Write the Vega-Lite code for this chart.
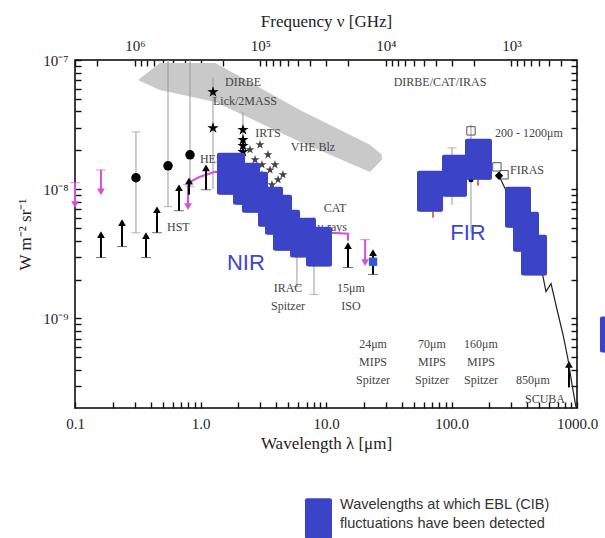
{
  "$schema": "https://vega.github.io/schema/vega-lite/v6.json",
  "width": 502,
  "height": 348,
  "autosize": {"type": "none"},
  "padding": {"left": 75, "top": 60, "right": 28, "bottom": 130},
  "background": "white",
  "config": {
    "view": {"stroke": "black", "strokeWidth": 1.5},
    "axis": {
      "domain": false, "ticks": true, "tickColor": "#111", "tickWidth": 1.4, "tickSize": 6, "offset": -6,
      "labelFont": "Liberation Serif", "labelFontSize": 15, "labelColor": "#222",
      "titleFont": "Liberation Serif", "titleFontSize": 17, "titleFontWeight": "normal", "titleColor": "#222",
      "grid": false, "zindex": 1, "labelOverlap": false, "labelFlush": false
    }
  },
  "datasets": {
    "band": [
      {"lam": 0.318, "I": 7.0e-8, "I2": 7.0e-8},
      {"lam": 0.475, "I": 9.5e-8, "I2": 5.86e-8},
      {"lam": 1.31, "I": 9.5e-8, "I2": 4.74e-8},
      {"lam": 6.2, "I": 4.11e-8, "I2": 2.33e-8},
      {"lam": 22.4, "I": 2.21e-8, "I2": 1.36e-8},
      {"lam": 27.9, "I": 1.85e-8, "I2": 1.69e-8}
    ],
    "errbars": [
      {"lam": 0.306, "I": 2.78e-8, "I2": 4.61e-9},
      {"lam": 0.551, "I": 1e-7, "I2": 7.33e-9},
      {"lam": 0.825, "I": 1e-7, "I2": 1.045e-8},
      {"lam": 1.258, "I": 7.26e-8, "I2": 1.0e-8},
      {"lam": 2.18, "I": 3.97e-8, "I2": 1.294e-8},
      {"lam": 5.87, "I": 3.01e-9, "I2": 1.766e-9},
      {"lam": 8.02, "I": 6.13e-9, "I2": 1.532e-9},
      {"lam": 143, "I": 3.15e-8, "I2": 4.61e-9},
      {"lam": 100.9, "I": 2.09e-8, "I2": 7.59e-9}
    ],
    "graycaps": [
      {"lam": 0.306, "I": 2.78e-8}, {"lam": 0.306, "I": 4.61e-9},
      {"lam": 0.551, "I": 7.33e-9}, {"lam": 0.825, "I": 1.045e-8},
      {"lam": 5.87, "I": 1.766e-9}, {"lam": 8.02, "I": 1.532e-9},
      {"lam": 100.9, "I": 2.09e-8}
    ],
    "labelsC": [
      {"lam": 2.18, "I": 6.76e-8, "text": "DIRBE"},
      {"lam": 2.262, "I": 4.82e-8, "text": "Lick/2MASS"},
      {"lam": 3.45, "I": 2.73e-8, "text": "IRTS"},
      {"lam": 7.88, "I": 2.13e-8, "text": "VHE Blz"},
      {"lam": 4.98, "I": 1.736e-9, "text": "IRAC"},
      {"lam": 4.98, "I": 1.26e-9, "text": "Spitzer"},
      {"lam": 15.8, "I": 1.736e-9, "text": "15μm"},
      {"lam": 15.8, "I": 1.26e-9, "text": "ISO"},
      {"lam": 11.8, "I": 7.2e-9, "text": "CAT"},
      {"lam": 81, "I": 6.76e-8, "text": "DIRBE/CAT/IRAS"},
      {"lam": 23.7, "I": 6.3e-10, "text": "24μm"},
      {"lam": 23.7, "I": 4.57e-10, "text": "MIPS"},
      {"lam": 23.7, "I": 3.32e-10, "text": "Spitzer"},
      {"lam": 69.9, "I": 6.3e-10, "text": "70μm"},
      {"lam": 69.9, "I": 4.57e-10, "text": "MIPS"},
      {"lam": 69.9, "I": 3.32e-10, "text": "Spitzer"},
      {"lam": 171.8, "I": 6.3e-10, "text": "160μm"},
      {"lam": 171.8, "I": 4.57e-10, "text": "MIPS"},
      {"lam": 171.8, "I": 3.32e-10, "text": "Spitzer"},
      {"lam": 446, "I": 3.32e-10, "text": "850μm"},
      {"lam": 556, "I": 2.37e-10, "text": "SCUBA"}
    ],
    "labelsL": [
      {"lam": 0.99, "I": 1.72e-8, "text": "HESS"},
      {"lam": 0.541, "I": 5.13e-9, "text": "HST"},
      {"lam": 222, "I": 2.73e-8, "text": "200 - 1200μm"},
      {"lam": 292.5, "I": 1.41e-8, "text": "FIRAS"}
    ],
    "labelsR": [
      {"lam": 14.7, "I": 5.13e-9, "text": "γ-rays"}
    ],
    "magline": [
      {"o": 1, "lam": 0.795, "I": 1.027e-8},
      {"o": 2, "lam": 0.856, "I": 1.163e-8},
      {"o": 3, "lam": 0.991, "I": 1.249e-8},
      {"o": 4, "lam": 1.305, "I": 1.365e-8},
      {"o": 5, "lam": 2.064, "I": 1.317e-8},
      {"o": 6, "lam": 4.30, "I": 7.59e-9},
      {"o": 7, "lam": 7.46, "I": 4.87e-9},
      {"o": 8, "lam": 10.76, "I": 4.61e-9},
      {"o": 9, "lam": 14.97, "I": 4.53e-9},
      {"o": 10, "lam": 14.97, "I": 4.0e-9}
    ],
    "down": [
      {"lam": 0.1, "I": 1.122e-8, "I2": 7.59e-9},
      {"lam": 0.161, "I": 1.41e-8, "I2": 9.56e-9},
      {"lam": 0.795, "I": 1.083e-8, "I2": 7.33e-9},
      {"lam": 20.5, "I": 4.07e-9, "I2": 2.71e-9}
    ],
    "downtips": [
      {"lam": 0.1, "I": 7.59e-9},
      {"lam": 0.161, "I": 9.56e-9},
      {"lam": 0.795, "I": 7.33e-9},
      {"lam": 20.5, "I": 2.71e-9}
    ],
    "up": [
      {"lam": 0.161, "I": 4.45e-9, "I2": 2.96e-9},
      {"lam": 0.237, "I": 5.51e-9, "I2": 3.6e-9},
      {"lam": 0.368, "I": 4.37e-9, "I2": 2.96e-9},
      {"lam": 0.450, "I": 6.94e-9, "I2": 4.61e-9},
      {"lam": 0.674, "I": 1.027e-8, "I2": 6.82e-9},
      {"lam": 1.106, "I": 1.466e-8, "I2": 9.91e-9},
      {"lam": 0.810, "I": 1.163e-8, "I2": 9.07e-9},
      {"lam": 14.97, "I": 3.66e-9, "I2": 2.48e-9},
      {"lam": 863, "I": 4.41e-10, "I2": 2.93e-10},
      {"lam": 23.7, "I": 3.23e-9, "I2": 2.19e-9}
    ],
    "upbases": [
      {"lam": 0.161, "I": 2.96e-9},
      {"lam": 0.237, "I": 3.6e-9},
      {"lam": 0.368, "I": 2.96e-9},
      {"lam": 0.450, "I": 4.61e-9},
      {"lam": 0.674, "I": 6.82e-9},
      {"lam": 1.106, "I": 9.91e-9},
      {"lam": 14.97, "I": 2.48e-9},
      {"lam": 23.7, "I": 2.19e-9}
    ],
    "circles": [
      {"lam": 0.306, "I": 1.227e-8},
      {"lam": 0.551, "I": 1.519e-8},
      {"lam": 0.825, "I": 1.847e-8}
    ],
    "bigstars": [
      {"lam": 1.258, "I": 5.66e-8},
      {"lam": 1.258, "I": 2.98e-8},
      {"lam": 2.18, "I": 2.88e-8},
      {"lam": 2.18, "I": 2.41e-8},
      {"lam": 2.18, "I": 2.17e-8},
      {"lam": 2.18, "I": 1.95e-8}
    ],
    "smallstars": [
      {"lam": 2.48, "I": 2.02e-8},
      {"lam": 2.72, "I": 1.69e-8},
      {"lam": 2.98, "I": 2.21e-8},
      {"lam": 3.09, "I": 1.55e-8},
      {"lam": 3.45, "I": 1.847e-8},
      {"lam": 3.58, "I": 1.41e-8},
      {"lam": 3.92, "I": 1.55e-8},
      {"lam": 4.15, "I": 1.184e-8},
      {"lam": 4.54, "I": 1.294e-8},
      {"lam": 3.09, "I": 1.294e-8},
      {"lam": 3.71, "I": 1.083e-8}
    ],
    "fircurve": [
      {"o": 1, "lam": 239, "I": 1.271e-8},
      {"o": 2, "lam": 300, "I": 8e-9},
      {"o": 3, "lam": 400, "I": 4.5e-9},
      {"o": 4, "lam": 536, "I": 2.11e-9},
      {"o": 5, "lam": 566, "I": 1.616e-9},
      {"o": 6, "lam": 621, "I": 1.863e-9},
      {"o": 7, "lam": 693, "I": 1.174e-9},
      {"o": 8, "lam": 773, "I": 7.52e-10},
      {"o": 9, "lam": 848, "I": 4.82e-10},
      {"o": 10, "lam": 912, "I": 3.09e-10},
      {"o": 11, "lam": 982, "I": 2.06e-10}
    ],
    "opensq": [
      {"lam": 143, "I": 2.83e-8},
      {"lam": 230, "I": 1.49e-8},
      {"lam": 262, "I": 1.294e-8}
    ],
    "diamond": [{"lam": 239, "I": 1.271e-8}],
    "blackdot": [{"lam": 143, "I": 1.184e-8}],
    "redmarks": [{"lam": 71.2, "I": 6.35e-9}, {"lam": 162.6, "I": 1.122e-8}],
    "bluesq": [{"lam": 23.7, "I": 2.75e-9}],
    "rects": [
      {"lam": 1.353, "lam2": 2.262, "I": 1.913e-8, "I2": 9.07e-9},
      {"lam": 1.815, "lam2": 2.979, "I": 1.602e-8, "I2": 7.59e-9},
      {"lam": 2.141, "lam2": 3.449, "I": 1.365e-8, "I2": 6.58e-9},
      {"lam": 2.872, "lam2": 4.544, "I": 1.045e-8, "I2": 5.13e-9},
      {"lam": 3.265, "lam2": 5.36, "I": 9.07e-9, "I2": 4.45e-9},
      {"lam": 3.781, "lam2": 6.21, "I": 6.94e-9, "I2": 3.35e-9},
      {"lam": 5.17, "lam2": 8.32, "I": 6.02e-9, "I2": 2.96e-9},
      {"lam": 6.93, "lam2": 11.16, "I": 5.13e-9, "I2": 2.52e-9},
      {"lam": 53.1, "lam2": 85.6, "I": 1.39e-8, "I2": 6.71e-9},
      {"lam": 84.0, "lam2": 132.9, "I": 1.847e-8, "I2": 8.75e-9},
      {"lam": 128.1, "lam2": 210.2, "I": 2.455e-8, "I2": 1.184e-8},
      {"lam": 266.9, "lam2": 430, "I": 1.045e-8, "I2": 5.04e-9},
      {"lam": 309, "lam2": 498, "I": 6.71e-9, "I2": 3.29e-9},
      {"lam": 358, "lam2": 577, "I": 4.45e-9, "I2": 2.15e-9},
      {"lam": 1524, "lam2": 1832, "I": 1.036e-9, "I2": 5.46e-10},
      {"lam": 6.80, "lam2": 11.16, "I": 4.07e-11, "I2": 1.965e-11}
    ],
    "bluetext": [
      {"lam": 2.30, "I": 2.71e-9, "text": "NIR"},
      {"lam": 135.4, "I": 4.61e-9, "text": "FIR"}
    ],
    "legendtext": [
      {"lam": 12.93, "I": 3.6e-11, "text": "Wavelengths at which EBL (CIB)"},
      {"lam": 12.93, "I": 2.57e-11, "text": "fluctuations have been detected"}
    ],
    "dummy": [{"nu": 300, "Iy": 1e-7}, {"nu": 3000000, "Iy": 2.03e-10}]
  },
  "layer": [
    {
      "data": {"name": "dummy"},
      "mark": {"type": "point", "opacity": 0},
      "encoding": {
        "x": {
          "field": "nu", "type": "quantitative",
          "scale": {"type": "log", "domain": [300, 3000000], "reverse": true, "nice": false},
          "axis": {
            "orient": "top", "title": "Frequency ν [GHz]", "titlePadding": 8,
            "values": [400,500,600,700,800,900,1000,2000,3000,4000,5000,6000,7000,8000,9000,10000,20000,30000,40000,50000,60000,70000,80000,90000,100000,200000,300000,400000,500000,600000,700000,800000,900000,1000000,2000000,3000000],
            "labelExpr": "datum.value==1000?'10³':datum.value==10000?'10⁴':datum.value==100000?'10⁵':datum.value==1000000?'10⁶':''",
            "labelPadding": 7
          }
        },
        "y": {
          "field": "Iy", "type": "quantitative",
          "scale": {"type": "log", "domain": [2.03e-10, 1e-7], "nice": false},
          "axis": {
            "orient": "right", "title": null, "labels": false,
            "values": [3e-10,4e-10,5e-10,6e-10,7e-10,8e-10,9e-10,1e-9,2e-9,3e-9,4e-9,5e-9,6e-9,7e-9,8e-9,9e-9,1e-8,2e-8,3e-8,4e-8,5e-8,6e-8,7e-8,8e-8,9e-8,1e-7]
          }
        }
      }
    },
    {
      "encoding": {
        "x": {
          "field": "lam", "type": "quantitative",
          "scale": {"type": "log", "domain": [0.1, 1000], "nice": false},
          "axis": {
            "orient": "bottom", "title": "Wavelength λ [μm]", "titlePadding": 4,
            "values": [0.1,0.2,0.3,0.4,0.5,0.6,0.7,0.8,0.9,1,2,3,4,5,6,7,8,9,10,20,30,40,50,60,70,80,90,100,200,300,400,500,600,700,800,900,1000],
            "labelExpr": "datum.value==0.1?'0.1':datum.value==1?'1.0':datum.value==10?'10.0':datum.value==100?'100.0':datum.value==1000?'1000.0':''",
            "labelPadding": 8
          }
        },
        "y": {
          "field": "I", "type": "quantitative",
          "scale": {"type": "log", "domain": [2.03e-10, 1e-7], "nice": false},
          "axis": {
            "orient": "left", "title": "W m⁻² sr⁻¹", "titlePadding": 8,
            "values": [3e-10,4e-10,5e-10,6e-10,7e-10,8e-10,9e-10,1e-9,2e-9,3e-9,4e-9,5e-9,6e-9,7e-9,8e-9,9e-9,1e-8,2e-8,3e-8,4e-8,5e-8,6e-8,7e-8,8e-8,9e-8,1e-7],
            "labelExpr": "datum.value==1e-7?'10⁻⁷':datum.value==1e-8?'10⁻⁸':datum.value==1e-9?'10⁻⁹':''",
            "labelPadding": 7
          }
        }
      },
      "layer": [
        {
          "data": {"name": "band"},
          "mark": {"type": "area", "color": "#c9c9c9", "opacity": 1},
          "encoding": {"y2": {"field": "I2"}}
        },
        {
          "data": {"name": "errbars"},
          "mark": {"type": "rule", "color": "#999", "strokeWidth": 1},
          "encoding": {"y2": {"field": "I2"}}
        },
        {
          "data": {"name": "graycaps"},
          "mark": {"type": "tick", "orient": "horizontal", "size": 9, "thickness": 1, "color": "#999"}
        },
        {
          "data": {"name": "labelsC"},
          "mark": {"type": "text", "font": "Liberation Serif", "fontSize": 12, "color": "#444", "align": "center", "baseline": "middle"},
          "encoding": {"text": {"field": "text", "type": "nominal"}}
        },
        {
          "data": {"name": "labelsL"},
          "mark": {"type": "text", "font": "Liberation Serif", "fontSize": 12, "color": "#444", "align": "left", "baseline": "middle"},
          "encoding": {"text": {"field": "text", "type": "nominal"}}
        },
        {
          "data": {"name": "labelsR"},
          "mark": {"type": "text", "font": "Liberation Serif", "fontSize": 12, "color": "#444", "align": "right", "baseline": "middle"},
          "encoding": {"text": {"field": "text", "type": "nominal"}}
        },
        {
          "data": {"name": "magline"},
          "mark": {"type": "line", "color": "#d94fd9", "strokeWidth": 2},
          "encoding": {"order": {"field": "o", "type": "quantitative"}}
        },
        {
          "data": {"name": "down"},
          "mark": {"type": "rule", "color": "#d94fd9", "strokeWidth": 2},
          "encoding": {"y2": {"field": "I2"}}
        },
        {
          "data": {"name": "down"},
          "mark": {"type": "tick", "orient": "horizontal", "size": 10, "thickness": 1, "color": "#d94fd9"}
        },
        {
          "data": {"name": "downtips"},
          "mark": {"type": "point", "shape": "triangle-down", "filled": true, "size": 60, "color": "#d94fd9", "opacity": 1}
        },
        {
          "data": {"name": "up"},
          "mark": {"type": "rule", "color": "black", "strokeWidth": 2},
          "encoding": {"y2": {"field": "I2"}}
        },
        {
          "data": {"name": "upbases"},
          "mark": {"type": "tick", "orient": "horizontal", "size": 10, "thickness": 1, "color": "#333"}
        },
        {
          "data": {"name": "up"},
          "mark": {"type": "point", "shape": "triangle-up", "filled": true, "size": 60, "color": "black", "opacity": 1}
        },
        {
          "data": {"name": "circles"},
          "mark": {"type": "circle", "size": 90, "color": "black", "opacity": 1}
        },
        {
          "data": {"name": "bigstars"},
          "mark": {"type": "point", "shape": "M0,-1L0.2234,-0.3074L0.9511,-0.309L0.3614,0.1174L0.5878,0.809L0,0.38L-0.5878,0.809L-0.3614,0.1174L-0.9511,-0.309L-0.2234,-0.3074Z", "filled": true, "size": 140, "color": "black", "opacity": 1}
        },
        {
          "data": {"name": "smallstars"},
          "mark": {"type": "point", "shape": "M0,-1L0.2234,-0.3074L0.9511,-0.309L0.3614,0.1174L0.5878,0.809L0,0.38L-0.5878,0.809L-0.3614,0.1174L-0.9511,-0.309L-0.2234,-0.3074Z", "filled": true, "size": 90, "color": "#444", "opacity": 1}
        },
        {
          "data": {"name": "fircurve"},
          "mark": {"type": "line", "color": "#222", "strokeWidth": 1.2},
          "encoding": {"order": {"field": "o", "type": "quantitative"}}
        },
        {
          "data": {"name": "opensq"},
          "mark": {"type": "point", "shape": "square", "filled": false, "size": 70, "color": "#555", "strokeWidth": 1, "opacity": 1}
        },
        {
          "data": {"name": "diamond"},
          "mark": {"type": "point", "shape": "diamond", "filled": true, "size": 70, "color": "black", "opacity": 1}
        },
        {
          "data": {"name": "blackdot"},
          "mark": {"type": "circle", "size": 25, "color": "black", "opacity": 1}
        },
        {
          "data": {"name": "redmarks"},
          "mark": {"type": "tick", "orient": "vertical", "size": 6, "thickness": 2, "color": "#d03030"}
        },
        {
          "data": {"name": "bluesq"},
          "mark": {"type": "point", "shape": "square", "filled": true, "size": 70, "color": "#2e5bd6", "opacity": 1}
        },
        {
          "data": {"name": "rects"},
          "mark": {"type": "rect", "color": "#1a1a2a", "opacity": 0.45, "xOffset": 3, "yOffset": 3, "cornerRadius": 2},
          "encoding": {"x2": {"field": "lam2"}, "y2": {"field": "I2"}}
        },
        {
          "data": {"name": "rects"},
          "mark": {"type": "rect", "color": "#3b44c6", "opacity": 1, "cornerRadius": 2},
          "encoding": {"x2": {"field": "lam2"}, "y2": {"field": "I2"}}
        },
        {
          "data": {"name": "bluetext"},
          "mark": {"type": "text", "font": "Liberation Sans", "fontSize": 22, "color": "#3d46d0", "align": "center", "baseline": "middle"},
          "encoding": {"text": {"field": "text", "type": "nominal"}}
        },
        {
          "data": {"name": "legendtext"},
          "mark": {"type": "text", "font": "Liberation Sans", "fontSize": 14.5, "color": "#333", "align": "left", "baseline": "middle"},
          "encoding": {"text": {"field": "text", "type": "nominal"}}
        }
      ]
    }
  ],
  "resolve": {"scale": {"x": "independent", "y": "independent"}, "axis": {"x": "independent", "y": "independent"}}
}
